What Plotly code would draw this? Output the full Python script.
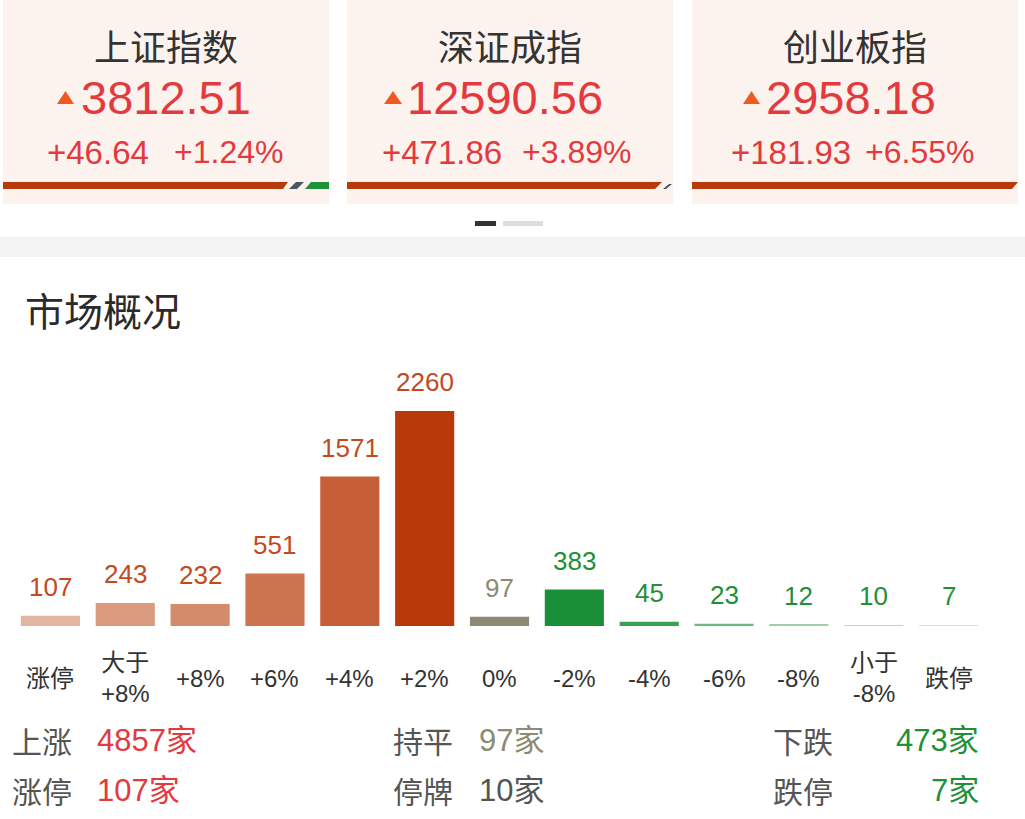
import plotly.graph_objects as go

W, H = 1025, 819

# ---------------- data ----------------
index_names = ["上证指数", "深证成指", "创业板指"]
index_values = ["3812.51", "12590.56", "2958.18"]
index_changes = ["+46.64", "+471.86", "+181.93"]
index_pcts = ["+1.24%", "+3.89%", "+6.55%"]

categories = ["涨停", "大于+8%", "+8%", "+6%", "+4%", "+2%", "0%",
              "-2%", "-4%", "-6%", "-8%", "小于-8%", "跌停"]
category_labels = ["涨停", "大于<br>+8%", "+8%", "+6%", "+4%", "+2%", "0%",
                   "-2%", "-4%", "-6%", "-8%", "小于<br>-8%", "跌停"]
counts = [107, 243, 232, 551, 1571, 2260, 97, 383, 45, 23, 12, 10, 7]

stat_row1 = [("上涨", "4857家"), ("持平", "97家"), ("下跌", "473家")]
stat_row2 = [("涨停", "107家"), ("停牌", "10家"), ("跌停", "7家")]

# ---------------- styles ----------------
bar_colors = ["#e2b4a1", "#d99a7d", "#d38b6b", "#cc7350", "#c65f37", "#b83a0a",
              "#8c8a72", "#1b8f38", "#3aa055", "#6cb880", "#9fd0ac", "#b8dcc2", "#cfe6d6"]
label_colors = ["#c24a1c"] * 6 + ["#8c8a72"] + ["#1e9038"] * 6

FONT = "Liberation Sans, Noto Sans CJK SC, sans-serif"
CJK = "Noto Sans CJK SC, sans-serif"
RED = "#e23a3e"


def px(x):
    return x / W


def py(y):
    return 1 - y / H


fig = go.Figure()
fig.add_trace(go.Bar(
    x=categories, y=counts,
    marker=dict(color=bar_colors, line=dict(width=0)),
    width=0.79, hoverinfo="skip",
))

shapes = []
annotations = []

# cards
cards = [(3, 329), (347, 673), (692, 1018)]
for (x0, x1) in cards:
    shapes.append(dict(type="rect", xref="paper", yref="paper",
                       x0=px(x0), x1=px(x1), y0=py(204), y1=py(0),
                       fillcolor="#fdf3ee", line=dict(width=0), layer="below"))


def para(xtl, xtr, xbl, xbr, yt, yb, color):
    path = (f"M {px(xbl)} {py(yb)} L {px(xtl)} {py(yt)} L {px(xtr)} {py(yt)} "
            f"L {px(xbr)} {py(yb)} Z")
    return dict(type="path", xref="paper", yref="paper", path=path,
                fillcolor=color, line=dict(width=0), layer="below")


STRIPE = "#b83a0c"
yt, yb = 182, 189
shapes.append(para(3, 288, 3, 283, yt, yb, STRIPE))
shapes.append(para(296, 304, 289, 297, yt, yb, "#4c5562"))
shapes.append(para(311, 329, 305, 329, yt, yb, "#1f913a"))
shapes.append(para(347, 662, 347, 655, yt, yb, STRIPE))
shapes.append(para(669, 672, 663, 666, yt + 2, yb, "#4c5562"))
shapes.append(para(692, 1018, 692, 1012, yt, yb, STRIPE))

# pagination indicator
shapes.append(dict(type="rect", xref="paper", yref="paper", x0=px(475), x1=px(496),
                   y0=py(226), y1=py(221), fillcolor="#333333", line=dict(width=0)))
shapes.append(dict(type="rect", xref="paper", yref="paper", x0=px(503), x1=px(543),
                   y0=py(226), y1=py(221), fillcolor="#dddddd", line=dict(width=0)))

# gray separator band
shapes.append(dict(type="rect", xref="paper", yref="paper", x0=0, x1=1,
                   y0=py(257), y1=py(237), fillcolor="#f4f4f4", line=dict(width=0),
                   layer="below"))

# triangles
tri_x = [(57, 74), (384, 402), (743, 760)]
for (a, b) in tri_x:
    path = (f"M {px(a)} {py(104)} L {px((a + b) / 2)} {py(91)} L {px(b)} {py(104)} Z")
    shapes.append(dict(type="path", xref="paper", yref="paper", path=path,
                       fillcolor="#ee5a1f", line=dict(width=0)))

title_cx = [166, 510, 855]
value_x = [79, 405, 764]
chg_x = [45, 380, 729]
pct_x = [172, 520, 863]
for i in range(3):
    annotations.append(dict(xref="paper", yref="paper", x=px(title_cx[i]), y=py(45),
                            text=index_names[i], showarrow=False, xanchor="center",
                            yanchor="middle", font=dict(family=CJK, size=36, color="#333333")))
    annotations.append(dict(xref="paper", yref="paper", x=px(value_x[i]), y=py(97),
                            text=index_values[i], showarrow=False, xanchor="left",
                            yanchor="middle", font=dict(family=FONT, size=47, color=RED)))
    annotations.append(dict(xref="paper", yref="paper", x=px(chg_x[i]), y=py(152),
                            text=index_changes[i], showarrow=False, xanchor="left",
                            yanchor="middle", font=dict(family=FONT, size=33, color=RED)))
    annotations.append(dict(xref="paper", yref="paper", x=px(pct_x[i]), y=py(152),
                            text=index_pcts[i], showarrow=False, xanchor="left",
                            yanchor="middle", font=dict(family=FONT, size=32, color=RED)))

# section title
annotations.append(dict(xref="paper", yref="paper", x=px(23), y=py(309),
                        text="市场概况", showarrow=False, xanchor="left", yanchor="middle",
                        font=dict(family=CJK, size=39, color="#2a2a2a")))

# bar value labels
for c, v, col in zip(categories, counts, label_colors):
    annotations.append(dict(xref="x", yref="y", x=c, y=v, text=str(v), showarrow=False,
                            xanchor="center", yanchor="bottom", yshift=12,
                            font=dict(family=FONT, size=26, color=col)))

# category labels
for c, lab in zip(categories, category_labels):
    annotations.append(dict(xref="x", yref="paper", x=c, y=py(678), text=lab,
                            showarrow=False, xanchor="center", yanchor="middle",
                            font=dict(family=FONT, size=24, color="#333333")))

# bottom statistics
label_x = [10, 391, 771]
val_x = [95, 477, None]
val_colors1 = [RED, "#8c8a72", "#1e9038"]
val_colors2 = [RED, "#555555", "#1e9038"]
for row, ycen, vcols in ((stat_row1, 740, val_colors1), (stat_row2, 790, val_colors2)):
    for j, (lab, val) in enumerate(row):
        annotations.append(dict(xref="paper", yref="paper", x=px(label_x[j]), y=py(ycen),
                                text=lab, showarrow=False, xanchor="left", yanchor="middle",
                                font=dict(family=CJK, size=30, color="#555555")))
        if val_x[j] is None:
            annotations.append(dict(xref="paper", yref="paper", x=px(981), y=py(ycen),
                                    text=val, showarrow=False, xanchor="right",
                                    yanchor="middle",
                                    font=dict(family=FONT, size=31, color=vcols[j])))
        else:
            annotations.append(dict(xref="paper", yref="paper", x=px(val_x[j]), y=py(ycen),
                                    text=val, showarrow=False, xanchor="left",
                                    yanchor="middle",
                                    font=dict(family=FONT, size=31, color=vcols[j])))

fig.update_layout(
    width=W, height=H,
    margin=dict(l=0, r=0, t=0, b=0),
    paper_bgcolor="white", plot_bgcolor="rgba(0,0,0,0)",
    showlegend=False,
    shapes=shapes, annotations=annotations,
    xaxis=dict(domain=[px(13), px(986)], range=[-0.5, 12.5], type="category",
               showticklabels=False, showgrid=False, zeroline=False, showline=False,
               fixedrange=True),
    yaxis=dict(domain=[py(626), py(411)], range=[0, 2260], showticklabels=False,
               showgrid=False, zeroline=False, showline=False, fixedrange=True),
)

fig.write_html("out.html", config={"displayModeBar": False},
               post_script="document.body.style.margin='0';document.body.style.overflow='hidden';")
